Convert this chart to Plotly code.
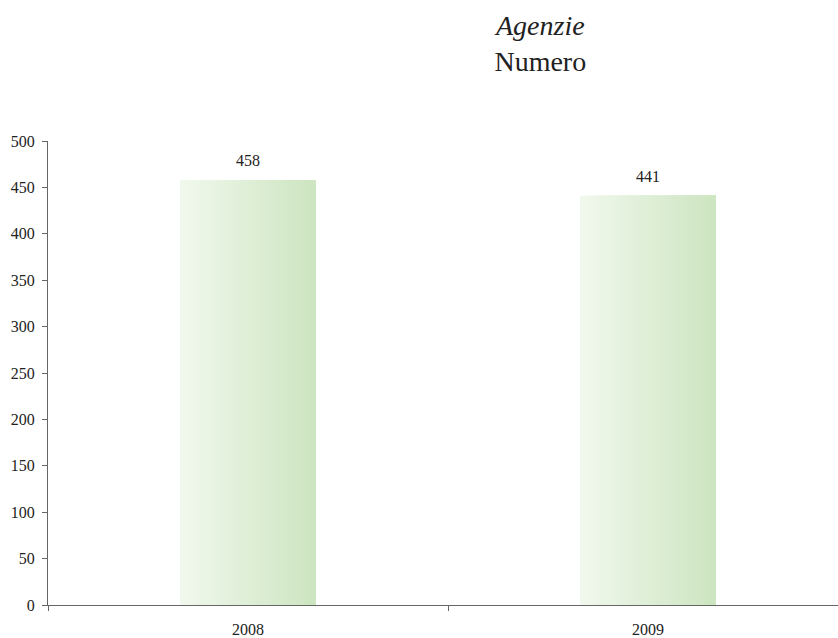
import plotly.graph_objects as go

# Numero di agenzie per anno
anni = ["2008", "2009"]
agenzie = [458, 441]

y_ticks = list(range(0, 501, 50))

SERIF = "Times New Roman, Liberation Serif, serif"
TEXT_COLOR = "#222222"
AXIS_COLOR = "#666666"

BAR_WIDTH = 0.34
N_STRIPS = 40
LEFT_RGB = (241, 248, 237)
RIGHT_RGB = (205, 229, 193)


def mix(t):
    r, g, b = (round(a + (c - a) * t) for a, c in zip(LEFT_RGB, RIGHT_RGB))
    return f"rgb({r},{g},{b})"


fig = go.Figure()

# Each bar is painted as overlapping strips, left to right, to get a
# horizontal colour gradient; each strip reaches the bar's right edge.
step = BAR_WIDTH / N_STRIPS
for i in range(N_STRIPS):
    fig.add_trace(go.Bar(
        x=anni,
        y=agenzie,
        width=BAR_WIDTH - i * step,
        offset=-BAR_WIDTH / 2 + i * step,
        marker=dict(color=mix(i / (N_STRIPS - 1)), line=dict(width=0)),
        hoverinfo="skip" if i else None,
        showlegend=False,
    ))

# Value labels above each bar (category axis positions by index)
for idx, n in enumerate(agenzie):
    fig.add_annotation(
        x=idx, y=n, text=str(n),
        showarrow=False, yanchor="bottom", yshift=9,
        font=dict(family=SERIF, size=16, color=TEXT_COLOR),
    )

# Two-line heading
fig.add_annotation(
    xref="paper", yref="paper",
    x=(540 - 48) / 790, y=1 + (141 - 43) / 466,
    xanchor="center", yanchor="middle",
    text="<i>Agenzie</i><br>Numero",
    showarrow=False, align="center",
    font=dict(family=SERIF, size=28, color=TEXT_COLOR),
)

fig.update_layout(
    width=838,
    height=638,
    barmode="overlay",
    plot_bgcolor="white",
    paper_bgcolor="white",
    margin=dict(l=48, r=0, t=141, b=31),
    font=dict(family=SERIF, color=TEXT_COLOR),
    showlegend=False,
)

fig.update_xaxes(
    type="category",
    range=[-0.5, 0.5 + (838 - 48 - 400) / 400],
    showline=True,
    linecolor=AXIS_COLOR,
    linewidth=1.3,
    ticks="outside",
    tickson="boundaries",
    ticklen=5,
    tickcolor=AXIS_COLOR,
    ticklabelstandoff=10,
    showgrid=False,
    zeroline=False,
    tickfont=dict(family=SERIF, size=16, color=TEXT_COLOR),
)

fig.update_yaxes(
    range=[0, 500],
    tickvals=y_ticks,
    showline=True,
    linecolor=AXIS_COLOR,
    linewidth=1.3,
    ticks="outside",
    ticklen=5,
    tickcolor=AXIS_COLOR,
    ticklabelstandoff=4,
    showgrid=False,
    zeroline=False,
    tickfont=dict(family=SERIF, size=16, color=TEXT_COLOR),
)

fig.write_html("out.html")
